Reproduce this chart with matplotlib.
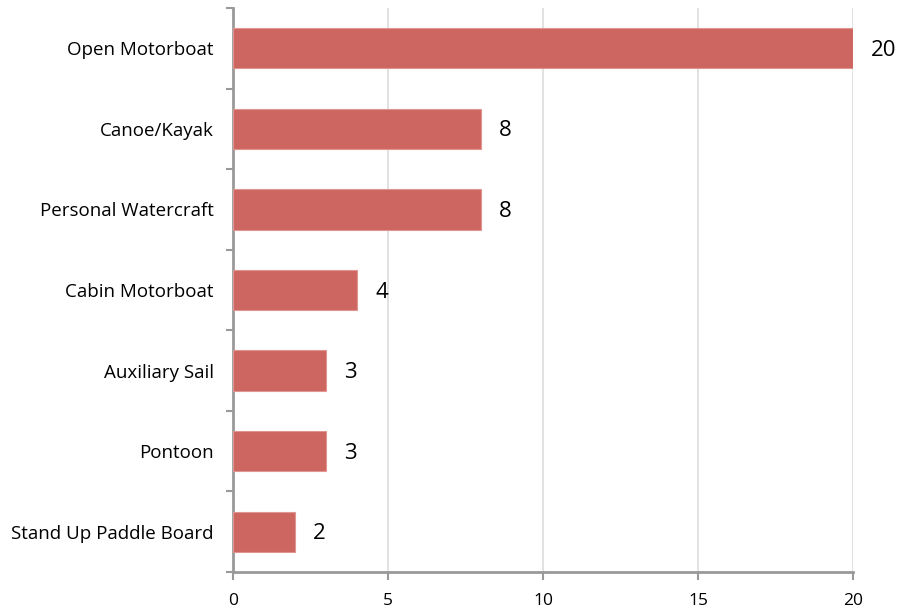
import matplotlib.pyplot as plt

categories = ["Open Motorboat", "Canoe/Kayak", "Personal Watercraft", "Cabin Motorboat",
              "Auxiliary Sail", "Pontoon", "Stand Up Paddle Board"]
values = [20, 8, 8, 4, 3, 3, 2]
xticks = [0, 5, 10, 15, 20]

plt.rcParams['font.family'] = ['Open Sans', 'DejaVu Sans']

fig = plt.figure(figsize=(9, 6.09), dpi=100)
ax = fig.add_axes([233/900, 1-572/609, 620/900, 564/609])

pos = list(range(len(categories)))[::-1]
ax.barh(pos, values, height=0.5, color='#cd6660', edgecolor='#e19590', linewidth=0.8, zorder=3)

# value labels to the right of each bar
for p, v in zip(pos, values):
    ax.annotate(str(v), (v, p), xytext=(18, -2), textcoords='offset pixels',
                va='center', ha='left', fontsize=16)

ax.set_xlim(0, 20)
ax.set_ylim(-0.5, len(categories) - 0.5)
ax.set_xticks(xticks)
ax.set_xticklabels([str(t) for t in xticks], fontsize=12.5)
ax.set_yticks(pos)
ax.set_yticklabels(categories, fontsize=13.5)
ax.set_yticks([p + 0.5 for p in pos] + [-0.5], minor=True)
ax.tick_params(axis='y', which='major', length=0, pad=14)
ax.tick_params(axis='y', which='minor', length=5, width=1.5, color='#999999')
ax.tick_params(axis='x', length=6, width=1.5, color='#999999', pad=9)

ax.grid(axis='x', color='#dddddd', linewidth=1.2, zorder=0)
for s in ['top', 'right']:
    ax.spines[s].set_visible(False)
for s in ['left', 'bottom']:
    ax.spines[s].set_color('#999999')
    ax.spines[s].set_linewidth(2)

fig.savefig('out.png', dpi=100)
